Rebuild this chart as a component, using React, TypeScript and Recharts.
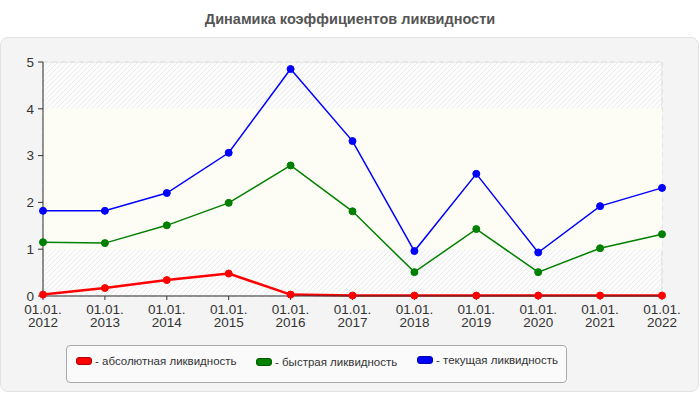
import React from "react";
import {
  LineChart,
  Line,
  XAxis,
  YAxis,
  CartesianGrid,
  ReferenceArea,
} from "recharts";

const years = ["2012", "2013", "2014", "2015", "2016", "2017", "2018", "2019", "2020", "2021", "2022"];
const absolute = [0.03, 0.17, 0.34, 0.48, 0.03, 0.01, 0.01, 0.01, 0.01, 0.01, 0.01];
const quick = [1.15, 1.13, 1.51, 1.99, 2.79, 1.81, 0.51, 1.43, 0.51, 1.02, 1.32];
const current = [1.82, 1.82, 2.2, 3.06, 4.85, 3.31, 0.96, 2.61, 0.93, 1.92, 2.31];
const yTicks = [0, 1, 2, 3, 4, 5];

const series = [
  { key: "absolute", name: "- абсолютная ликвидность", color: "#ff0000", swatchBorder: "#b00000", width: 2.5, offsetY: 1 },
  { key: "quick", name: "- быстрая ликвидность", color: "#008000", swatchBorder: "#005a00", width: 1.5, offsetY: 2 },
  { key: "current", name: "- текущая ликвидность", color: "#0000ff", swatchBorder: "#0000aa", width: 1.5, offsetY: 0 },
];

const data = years.map((y, i) => ({
  date: y,
  absolute: absolute[i],
  quick: quick[i],
  current: current[i],
}));

const font = "Arial, 'Liberation Sans', sans-serif";

function DateTick(props: any) {
  const { x, y, payload } = props;
  return (
    <text x={x} y={y} textAnchor="middle" fontSize={13.5} fill="#333" fontFamily={font}>
      <tspan x={x} dy={12}>01.01.</tspan>
      <tspan x={x} dy={13}>{payload.value}</tspan>
    </text>
  );
}

export default function App() {
  return (
    <div style={{ position: "absolute", left: 0, top: 0, width: 700, height: 400, background: "#fff", fontFamily: font }}>
      <div
        style={{
          position: "absolute",
          left: 0,
          top: 37,
          width: 697,
          height: 353,
          background: "#f4f4f4",
          border: "1px solid #e2e2e2",
          borderRadius: 8,
        }}
      />
      <div
        style={{
          position: "absolute",
          left: 0,
          top: 11,
          width: 700,
          textAlign: "center",
          fontSize: 14.5,
          fontWeight: "bold",
          color: "#555",
        }}
      >
        Динамика коэффициентов ликвидности
      </div>
      <div style={{ position: "absolute", left: 0, top: 0 }}>
        <LineChart width={700} height={400} data={data} margin={{ top: 62, right: 38, bottom: 64, left: 0 }}>
          <defs>
            <pattern id="hatch" patternUnits="userSpaceOnUse" width="5" height="5">
              <rect width="5" height="5" fill="#fcfcfc" />
              <path d="M-1,1 l2,-2 M0,5 l5,-5 M4,6 l2,-2" stroke="#ececec" strokeWidth="1" />
            </pattern>
          </defs>
          <ReferenceArea y1={0} y2={5} fill="url(#hatch)" fillOpacity={1} stroke="#d8d8d8" strokeWidth={1} ifOverflow="hidden" />
          <ReferenceArea y1={1} y2={4} fill="#fdfdf6" fillOpacity={1} stroke="none" />
          <CartesianGrid stroke="#d8d8d8" strokeDasharray="5 4" />
          <XAxis
            dataKey="date"
            tick={<DateTick />}
            tickSize={4}
            interval={0}
            padding={{ left: 0, right: 0 }}
            axisLine={{ stroke: "#333" }}
            tickLine={{ stroke: "#333" }}
            height={40}
          />
          <YAxis
            domain={[0, 5]}
            ticks={yTicks}
            width={43}
            tickSize={5}
            axisLine={{ stroke: "#333" }}
            tickLine={{ stroke: "#333" }}
            tick={{ fontSize: 13.5, fill: "#333", fontFamily: font, dx: -2 }}
          />
          {series.map((s) => (
            <Line
              key={s.key}
              dataKey={s.key}
              name={s.name}
              stroke={s.color}
              strokeWidth={s.width}
              dot={{ r: 3.5, fill: s.color, stroke: s.color, strokeWidth: 1 }}
              isAnimationActive={false}
              type="linear"
            />
          ))}
        </LineChart>
      </div>
      <div
        style={{
          position: "absolute",
          left: 66,
          top: 345,
          width: 499,
          height: 36,
          background: "#fafafa",
          border: "1px solid #aaa",
          borderRadius: 4,
        }}
      >
        {series.map((s, i) => (
          <div
            key={s.key}
            style={{
              position: "absolute",
              left: [9, 189, 350][i],
              top: 8 + s.offsetY,
              display: "flex",
              alignItems: "center",
              fontSize: 11.5,
              color: "#333",
              whiteSpace: "nowrap",
            }}
          >
            <span
              style={{
                display: "inline-block",
                width: 14,
                height: 6,
                background: s.color,
                border: `1px solid ${s.swatchBorder}`,
                borderRadius: 3,
                marginRight: 3,
              }}
            />
            {s.name}
          </div>
        ))}
      </div>
    </div>
  );
}
